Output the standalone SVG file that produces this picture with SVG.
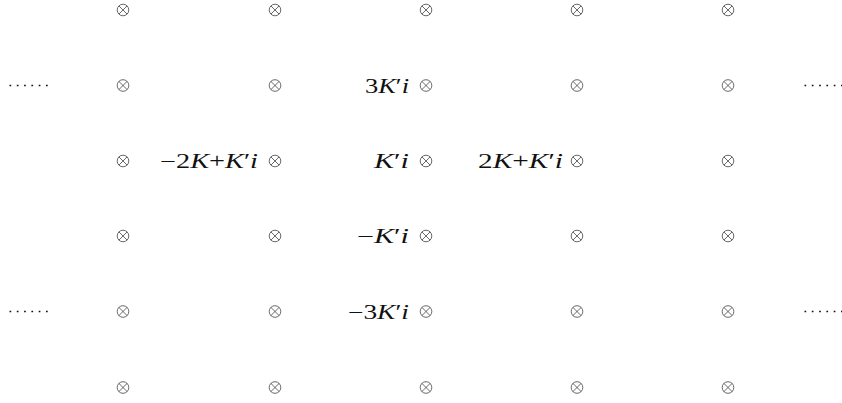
<svg xmlns="http://www.w3.org/2000/svg" width="842" height="403" viewBox="0 0 842 403">
<defs>
<symbol id="ot" viewBox="-6.5 -6.5 13 13" overflow="visible">
<circle cx="0" cy="0" r="5.8" fill="none" stroke="#444" stroke-width="0.8"/>
<path d="M-4.1 -4.1 L4.1 4.1 M-4.1 4.1 L4.1 -4.1" stroke="#444" stroke-width="0.8"/>
</symbol>
</defs>
<style>
text{font-family:"Liberation Serif","DejaVu Serif",serif;font-size:20px;fill:#111;}
.it{font-style:italic;}
.pr{font-size:22px;}
.dots{stroke:#111;stroke-width:1.7;stroke-dasharray:1.7 5.6;}
</style>
<rect width="842" height="403" fill="#fff"/>
<g id="connectors">
<line class="dots" x1="9.5" y1="85.5" x2="48" y2="85.5"/>
<line class="dots" x1="804.5" y1="85.5" x2="842" y2="85.5"/>
<line class="dots" x1="9.5" y1="311.5" x2="48" y2="311.5"/>
<line class="dots" x1="804.5" y1="311.5" x2="842" y2="311.5"/>
</g>
<g id="row1">
<g id="n11"><use href="#ot" x="116.5" y="3.5" width="13" height="13"/></g>
<g id="n12"><use href="#ot" x="268.5" y="3.5" width="13" height="13"/></g>
<g id="n13"><use href="#ot" x="419.5" y="3.5" width="13" height="13"/></g>
<g id="n14"><use href="#ot" x="570.5" y="3.5" width="13" height="13"/></g>
<g id="n15"><use href="#ot" x="721.5" y="3.5" width="13" height="13"/></g>
</g>
<g id="row2">
<g id="n21"><use href="#ot" x="116.5" y="79" width="13" height="13"/></g>
<g id="n22"><use href="#ot" x="268.5" y="79" width="13" height="13"/></g>
<g id="n23"><use href="#ot" x="419.5" y="79" width="13" height="13"/><text x="365" y="92.5" textLength="44" lengthAdjust="spacingAndGlyphs">3<tspan class="it">K</tspan>′<tspan class="it">i</tspan></text></g>
<g id="n24"><use href="#ot" x="570.5" y="79" width="13" height="13"/></g>
<g id="n25"><use href="#ot" x="721.5" y="79" width="13" height="13"/></g>
</g>
<g id="row3">
<g id="n31"><use href="#ot" x="116.5" y="154.5" width="13" height="13"/></g>
<g id="n32"><use href="#ot" x="268.5" y="154.5" width="13" height="13"/><text x="160" y="168" textLength="98" lengthAdjust="spacingAndGlyphs">−2<tspan class="it">K</tspan>+<tspan class="it">K</tspan>′<tspan class="it">i</tspan></text></g>
<g id="n33"><use href="#ot" x="419.5" y="154.5" width="13" height="13"/><text x="374" y="168" textLength="35" lengthAdjust="spacingAndGlyphs"><tspan class="it">K</tspan>′<tspan class="it">i</tspan></text></g>
<g id="n34"><use href="#ot" x="570.5" y="154.5" width="13" height="13"/><text x="478" y="168" textLength="85" lengthAdjust="spacingAndGlyphs">2<tspan class="it">K</tspan>+<tspan class="it">K</tspan>′<tspan class="it">i</tspan></text></g>
<g id="n35"><use href="#ot" x="721.5" y="154.5" width="13" height="13"/></g>
</g>
<g id="row4">
<g id="n41"><use href="#ot" x="116.5" y="229.5" width="13" height="13"/></g>
<g id="n42"><use href="#ot" x="268.5" y="229.5" width="13" height="13"/></g>
<g id="n43"><use href="#ot" x="419.5" y="229.5" width="13" height="13"/><text x="357" y="243" textLength="52" lengthAdjust="spacingAndGlyphs">−<tspan class="it">K</tspan>′<tspan class="it">i</tspan></text></g>
<g id="n44"><use href="#ot" x="570.5" y="229.5" width="13" height="13"/></g>
<g id="n45"><use href="#ot" x="721.5" y="229.5" width="13" height="13"/></g>
</g>
<g id="row5">
<g id="n51"><use href="#ot" x="116.5" y="305" width="13" height="13"/></g>
<g id="n52"><use href="#ot" x="268.5" y="305" width="13" height="13"/></g>
<g id="n53"><use href="#ot" x="419.5" y="305" width="13" height="13"/><text x="348" y="318.5" textLength="61" lengthAdjust="spacingAndGlyphs">−3<tspan class="it">K</tspan>′<tspan class="it">i</tspan></text></g>
<g id="n54"><use href="#ot" x="570.5" y="305" width="13" height="13"/></g>
<g id="n55"><use href="#ot" x="721.5" y="305" width="13" height="13"/></g>
</g>
<g id="row6">
<g id="n61"><use href="#ot" x="116.5" y="381" width="13" height="13"/></g>
<g id="n62"><use href="#ot" x="268.5" y="381" width="13" height="13"/></g>
<g id="n63"><use href="#ot" x="419.5" y="381" width="13" height="13"/></g>
<g id="n64"><use href="#ot" x="570.5" y="381" width="13" height="13"/></g>
<g id="n65"><use href="#ot" x="721.5" y="381" width="13" height="13"/></g>
</g>
</svg>
